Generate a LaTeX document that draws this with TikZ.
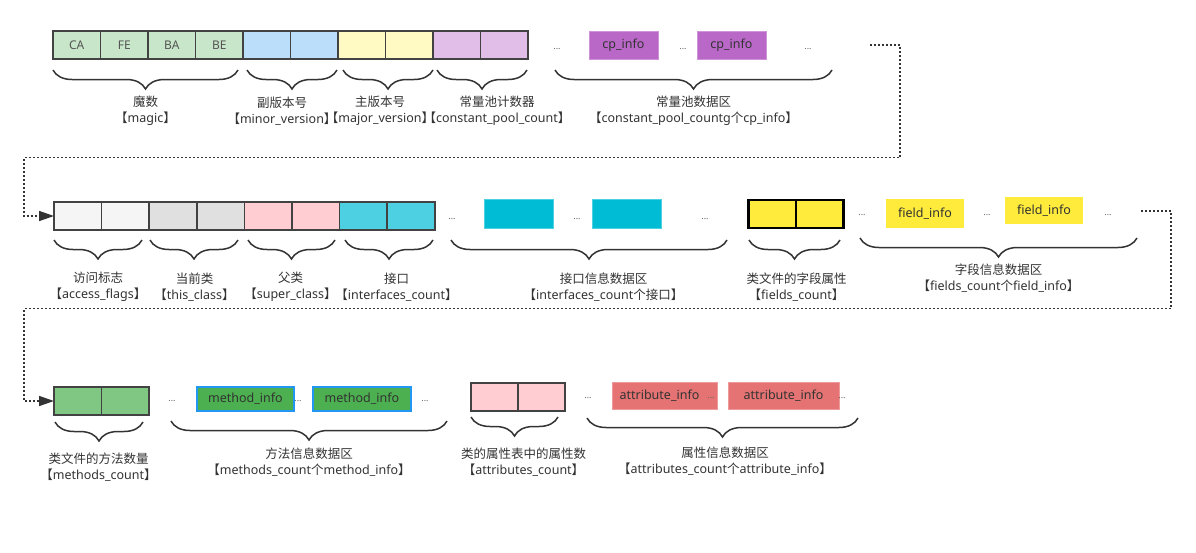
\documentclass[tikz,border=0pt]{standalone}
\usepackage{fontspec}
\setmainfont{Noto Sans}
\newfontfamily\zh{Noto Sans CJK SC}
\newfontfamily\zhh[RawFeature=+halt]{Noto Sans CJK SC}
\newcommand\lb{{\zhh 【}}
\newcommand\rb{{\zhh 】}}
\usetikzlibrary{arrows.meta,decorations.pathreplacing}
\definecolor{txt}{HTML}{333333}
\definecolor{txtgray}{HTML}{555555}
\definecolor{dotgray}{HTML}{666666}
\definecolor{cellline}{HTML}{424242}
\definecolor{cgreen}{HTML}{C8E6C9}
\definecolor{cblue}{HTML}{BBDEFB}
\definecolor{cyellow}{HTML}{FFF9C4}
\definecolor{cpurple}{HTML}{E1BEE7}
\definecolor{cpinfo}{HTML}{BA68C8}
\definecolor{cpline}{HTML}{CE93D8}
\definecolor{cwhite}{HTML}{F5F5F5}
\definecolor{cgray}{HTML}{E0E0E0}
\definecolor{cpink}{HTML}{FFCDD2}
\definecolor{ccyan}{HTML}{4DD0E1}
\definecolor{ifill}{HTML}{00BCD4}
\definecolor{iline}{HTML}{4DD0E1}
\definecolor{fyellow}{HTML}{FFEB3B}
\definecolor{mgreen}{HTML}{81C784}
\definecolor{mifill}{HTML}{4CAF50}
\definecolor{miline}{HTML}{2196F3}
\definecolor{aifill}{HTML}{E57373}
\definecolor{ailine}{HTML}{EF9A9A}
\begin{document}
\begin{tikzpicture}[x=1pt,y=-1pt,
  cell/.style={draw=cellline, line width=1.5pt, minimum height=28pt, minimum width=47.5pt,
    inner sep=0pt, outer sep=0pt, font=\fontsize{12}{12}\selectfont, text=txtgray},
  blk/.style={inner sep=0pt, outer sep=0pt, font=\fontsize{12.5}{12.5}\selectfont, text=txt},
  dots/.style={font=\fontsize{9}{9}\selectfont, text=dotgray, inner sep=0pt},
  lbl/.style={align=center, font=\fontsize{12.5}{16}\selectfont, text=txt, inner sep=0pt},
  br/.style={decorate, decoration={brace, amplitude=19pt, mirror}, line width=1.5pt, draw=txt},
  conn/.style={draw=txt, line width=1.5pt, dash pattern=on 2pt off 2pt},
  tip/.style={-{Triangle[length=15pt,width=10pt]}}
]
\path[use as bounding box, fill=white] (0,0) rectangle (1196,552);

% ---------- Row 1 ----------
\node[cell, fill=cgreen] (r1a) at (76.75,45) {CA};
\node[cell, fill=cgreen] (r1b) at (124.25,45) {FE};
\node[cell, fill=cgreen] (r1c) at (171.75,45) {BA};
\node[cell, fill=cgreen] (r1d) at (219.25,45) {BE};
\node[cell, fill=cblue] (r1e) at (266.75,45) {};
\node[cell, fill=cblue] (r1f) at (314.25,45) {};
\node[cell, fill=cyellow] (r1g) at (361.75,45) {};
\node[cell, fill=cyellow] (r1h) at (409.25,45) {};
\node[cell, fill=cpurple] (r1i) at (456.75,45) {};
\node[cell, fill=cpurple] (r1j) at (504.25,45) {};

\node[dots] (d11) at (557,49) {...};
\node[blk, fill=cpinfo, draw=cpline, line width=0.8pt, minimum width=69pt, minimum height=28pt] (cp1) at (623.5,45) {cp\_info};
\node[dots] (d12) at (683,49) {...};
\node[blk, fill=cpinfo, draw=cpline, line width=0.8pt, minimum width=69pt, minimum height=28pt] (cp2) at (731.5,45) {cp\_info};
\node[dots] (d13) at (808,49) {...};

\draw[br] (53,70) -- (238,70);
\draw[br] (247,70) -- (337,70);
\draw[br] (343,70) -- (433,70);
\draw[br] (437,70) -- (527,70);
\draw[br] (555,70) -- (832,70);

\node[lbl] (l11) at (145.5,111) {{\zh 魔数}\\\lb magic\rb};
\node[lbl] (l12) at (282,111) {{\zh 副版本号}\\\lb minor\_version\rb};
\node[lbl] (l13) at (380,111) {{\zh 主版本号}\\\lb major\_version\rb};
\node[lbl] (l14) at (497,111) {{\zh 常量池计数器}\\\lb constant\_pool\_count\rb};
\node[lbl] (l15) at (693.5,111) {{\zh 常量池数据区}\\\lb constant\_pool\_countg{\zh 个}cp\_info\rb};

% ---------- Row 2 ----------
\node[cell, fill=cwhite, minimum width=47.6pt] (r2a) at (77.8,216) {};
\node[cell, fill=cwhite, minimum width=47.6pt] (r2b) at (125.4,216) {};
\node[cell, fill=cgray, minimum width=47.6pt] (r2c) at (173,216) {};
\node[cell, fill=cgray, minimum width=47.6pt] (r2d) at (220.6,216) {};
\node[cell, fill=cpink, minimum width=47.6pt] (r2e) at (268.2,216) {};
\node[cell, fill=cpink, minimum width=47.6pt] (r2f) at (315.8,216) {};
\node[cell, fill=ccyan, minimum width=47.6pt] (r2g) at (363.4,216) {};
\node[cell, fill=ccyan, minimum width=47.6pt] (r2h) at (411,216) {};

\node[dots] (d21) at (452,219) {...};
\node[blk, fill=ifill, draw=iline, line width=1pt, minimum width=69pt, minimum height=29pt] (if1) at (518.5,213.5) {};
\node[dots] (d22) at (577,219) {...};
\node[blk, fill=ifill, draw=iline, line width=1pt, minimum width=69pt, minimum height=29pt] (if2) at (626.5,213.5) {};
\node[dots] (d23) at (705,219) {...};

\node[cell, fill=fyellow, draw=black, line width=2.5pt] (fc1) at (772.25,214) {};
\node[cell, fill=fyellow, draw=black, line width=2.5pt] (fc2) at (819.75,214) {};

\node[dots] (d24) at (862,215) {...};
\node[blk, fill=fyellow, minimum width=78pt, minimum height=29pt] (fi1) at (925,213.5) {field\_info};
\node[dots] (d25) at (987,215) {...};
\node[blk, fill=fyellow, minimum width=78pt, minimum height=27pt] (fi2) at (1044,210.5) {field\_info};
\node[dots] (d26) at (1108,215) {...};

\draw[br] (54,240) -- (142,240);
\draw[br] (150,240) -- (238,240);
\draw[br] (248,240) -- (335,240);
\draw[br] (345,240) -- (433,240);
\draw[br] (451,240) -- (727,240);
\draw[br] (749,240) -- (840,240);
\draw[br] (860,238) -- (1137,238);

\node[lbl] (l21) at (98,287) {{\zh 访问标志}\\\lb access\_flags\rb};
\node[lbl] (l22) at (194.5,287) {{\zh 当前类}\\\lb this\_class\rb};
\node[lbl] (l23) at (290.5,287) {{\zh 父类}\\\lb super\_class\rb};
\node[lbl] (l24) at (396.5,287) {{\zh 接口}\\\lb interfaces\_count\rb};
\node[lbl] (l25) at (603.5,287) {{\zh 接口信息数据区}\\\lb interfaces\_count{\zh 个接口}\rb};
\node[lbl] (l26) at (796.5,287) {{\zh 类文件的字段属性}\\\lb fields\_count\rb};
\node[lbl] (l27) at (998.5,278) {{\zh 字段信息数据区}\\\lb fields\_count{\zh 个}field\_info\rb};

% ---------- Row 3 ----------
\node[cell, fill=mgreen] (r3a) at (77.75,401) {};
\node[cell, fill=mgreen] (r3b) at (125.25,401) {};

\node[dots] (d31) at (172,401) {...};
\node[blk, fill=mifill, draw=miline, line width=2pt, minimum width=97pt, minimum height=24pt] (mi1) at (245.5,399) {method\_info};
\node[dots] (d32) at (298,401) {...};
\node[blk, fill=mifill, draw=miline, line width=2pt, minimum width=98pt, minimum height=24pt] (mi2) at (362,399) {method\_info};
\node[dots] (d33) at (425,401) {...};

\node[cell, fill=cpink, minimum width=47pt] (ac1) at (494.5,397) {};
\node[cell, fill=cpink, minimum width=47pt] (ac2) at (541.5,397) {};

\node[dots] (d34) at (588,398) {...};
\node[blk, fill=aifill, draw=ailine, line width=0.8pt, minimum width=105pt, minimum height=27pt] (ai1) at (664.5,395.5) {attribute\_info\phantom{...}};
\node[dots] (d35) at (711,398) {...};
\node[blk, fill=aifill, draw=ailine, line width=0.8pt, minimum width=111pt, minimum height=27pt] (ai2) at (783.5,395.5) {attribute\_info};
\node[dots] (d36) at (842,398) {...};

\draw[br] (55,422) -- (143,422);
\draw[br] (171,421) -- (447,421);
\draw[br] (471,417) -- (558,417);
\draw[br] (587,418) -- (858,418);

\node[lbl] (l31) at (98.5,467) {{\zh 类文件的方法数量}\\\lb methods\_count\rb};
\node[lbl] (l32) at (309,462.5) {{\zh 方法信息数据区}\\\lb methods\_count{\zh 个}method\_info\rb};
\node[lbl] (l33) at (523.5,462.5) {{\zh 类的属性表中的属性数}\\\lb attributes\_count\rb};
\node[lbl] (l34) at (725,461) {{\zh 属性信息数据区}\\\lb attributes\_count{\zh 个}attribute\_info\rb};

% ---------- Connectors ----------
\coordinate (s1) at (870,45);
\draw[conn, tip] (s1) -- (900,45) -- (900,157.5) -- (24,157.5) |- (r2a.west);
\coordinate (s2) at (1141,211);
\draw[conn, tip] (s2) -- (1171,211) -- (1171,308.5) -- (24,308.5) |- (r3a.west);
\end{tikzpicture}
\end{document}
